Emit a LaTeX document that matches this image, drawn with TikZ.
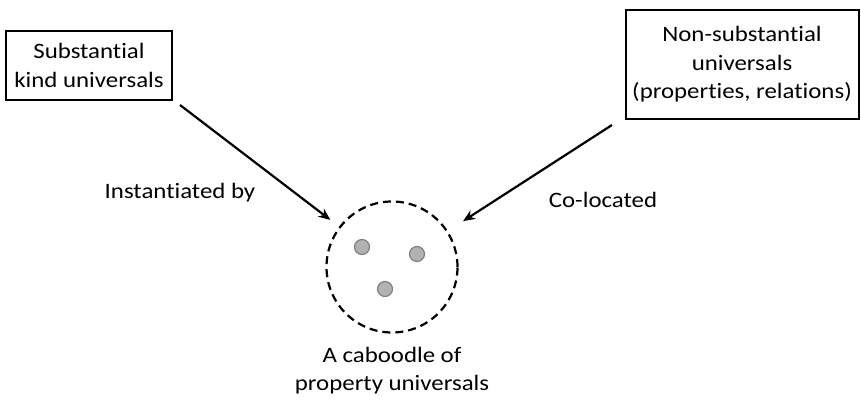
\documentclass[tikz,border=0pt]{standalone}
\usepackage{fontspec}
\setmainfont{Carlito}[FakeStretch=1.13,Ligatures=NoCommon]
\usetikzlibrary{arrows.meta}
\begin{document}
\begin{tikzpicture}[x=1pt,y=-1pt,
  box/.style={draw,line width=2pt,inner sep=0pt,align=center,font=\fontsize{22}{28.5}\selectfont},
  lbl/.style={align=center,font=\fontsize{22}{28}\selectfont},
  conn/.style={line width=2.2pt,-{Stealth[length=12pt,width=10pt]}},
  dot/.style={circle,fill=black!30,draw=black!50,line width=1.2pt,minimum size=15pt,inner sep=0pt}]
\useasboundingbox (0,0) rectangle (861,401);
\node[box,minimum width=166pt,minimum height=69pt] (sk) at (89,65.5) {Substantial\\kind universals};
\node[box,minimum width=233pt,minimum height=109pt] (ns) at (742,64.5) {Non-substantial\\universals\\(properties, relations)};
\node[circle,draw,dash pattern=on 8pt off 5pt,line width=2.2pt,minimum size=131pt,inner sep=0pt] (cab) at (392,267) {};
\node[dot] (d1) at (362,247) {};
\node[dot] (d2) at (417,254) {};
\node[dot] (d3) at (385,289) {};
\node[lbl] (inst) at (180,193) {Instantiated by};
\node[lbl] (coloc) at (603,200) {Co-located};
\node[lbl] (capt) at (392,371) {A caboodle of\\property universals};
\coordinate (a1) at (180,105);
\coordinate (a2) at (612,125);
\draw[conn,shorten >=11pt] (a1) -- (cab);
\draw[conn,shorten >=18pt] (a2) -- (cab);
\end{tikzpicture}
\end{document}
